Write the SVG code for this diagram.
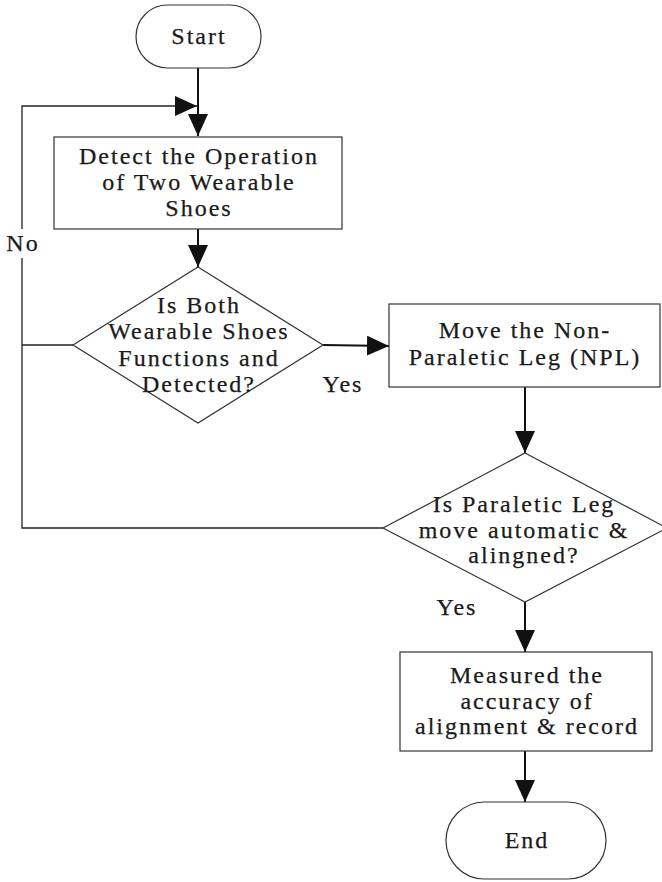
<svg xmlns="http://www.w3.org/2000/svg" width="662" height="882" viewBox="0 0 662 882">
<style>
.shape{fill:#fff;stroke:#333;stroke-width:1.2}
.t{font-family:"Liberation Serif","Times New Roman",serif;font-size:24px;letter-spacing:2px;fill:#1a1a1a;stroke:#1a1a1a;stroke-width:0.25;text-anchor:middle}
.c{fill:none;stroke:#111;stroke-width:2}
.thin{fill:none;stroke:#222;stroke-width:1.3}
</style>
<defs>
<marker id="ah" markerUnits="userSpaceOnUse" markerWidth="22" markerHeight="20" refX="22" refY="10" orient="auto" viewBox="0 0 22 20">
<path d="M0,0 L22,10 L0,20 z" fill="#111"/>
</marker>
</defs>
<g id="connectors">
<line class="c" x1="198" y1="68" x2="198" y2="136" marker-end="url(#ah)"/>
<line class="c" x1="198" y1="229" x2="198" y2="267" marker-end="url(#ah)"/>
<line class="c" x1="323" y1="345" x2="389" y2="346" marker-end="url(#ah)"/>
<line class="c" x1="525" y1="387" x2="525" y2="453" marker-end="url(#ah)"/>
<line class="c" x1="525" y1="602" x2="525" y2="652" marker-end="url(#ah)"/>
<line class="c" x1="525" y1="751" x2="525" y2="802" marker-end="url(#ah)"/>
<polyline class="thin" points="383,528 22,528 22,258"/>
<polyline class="thin" points="22,229 22,106 197,106" marker-end="url(#ah)"/>
<line class="thin" x1="73" y1="345" x2="22" y2="345"/>
<text class="t" x="23" y="251">No</text>
<text class="t" x="343" y="392">Yes</text>
<text class="t" x="457" y="615">Yes</text>
</g>
<g id="start">
<rect class="shape" x="136" y="5" width="125" height="63" rx="31.5"/>
<text class="t" x="199" y="44">Start</text>
</g>
<g id="detect">
<rect class="shape" x="54" y="137" width="288" height="92"/>
<text class="t" x="199" y="164">Detect the Operation</text>
<text class="t" x="199" y="190">of Two Wearable</text>
<text class="t" x="199" y="216">Shoes</text>
</g>
<g id="decision1">
<polygon class="shape" points="198,267 323,345 198,423 73,345"/>
<text class="t" x="199" y="313">Is Both</text>
<text class="t" x="199" y="339">Wearable Shoes</text>
<text class="t" x="199" y="366">Functions and</text>
<text class="t" x="199" y="392">Detected?</text>
</g>
<g id="move">
<rect class="shape" x="389" y="304" width="271" height="83"/>
<text class="t" x="525" y="338">Move the Non-</text>
<text class="t" x="525" y="365">Paraletic Leg (NPL)</text>
</g>
<g id="decision2">
<polygon class="shape" points="525,453 667,528 525,602 383,528"/>
<text class="t" x="524" y="512">Is Paraletic Leg</text>
<text class="t" x="524" y="538">move automatic &amp;</text>
<text class="t" x="524" y="563">alingned?</text>
</g>
<g id="measure">
<rect class="shape" x="400" y="652" width="252" height="99"/>
<text class="t" x="527" y="683">Measured the</text>
<text class="t" x="527" y="709">accuracy of</text>
<text class="t" x="527" y="734">alignment &amp; record</text>
</g>
<g id="end">
<rect class="shape" x="446" y="802" width="160" height="77" rx="38.5"/>
<text class="t" x="527" y="848">End</text>
</g>
</svg>
